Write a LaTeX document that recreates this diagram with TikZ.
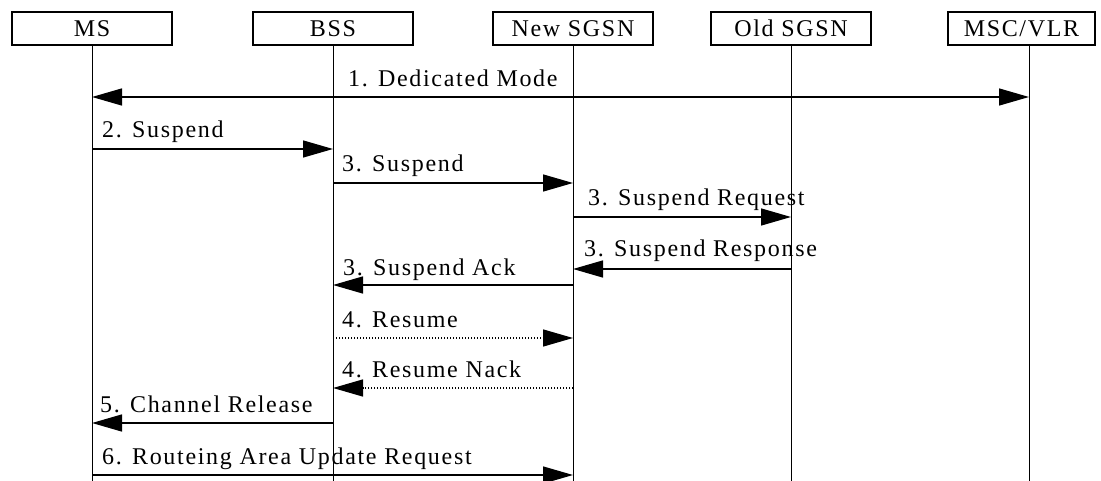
\documentclass[tikz,border=0pt]{standalone}
\usepackage{fontspec}
\setmainfont{Liberation Serif}[LetterSpace=7]
\usetikzlibrary{arrows.meta,positioning}

\begin{document}
\begin{tikzpicture}[x=1pt,y=-1pt,line cap=butt,
 every node/.style={font=\fontsize{24}{28}\selectfont,inner sep=0pt},
 entity/.style={draw,line width=1.3pt,minimum width=160pt,minimum height=33pt},
 msg/.style={line width=1.4pt,-{Triangle[length=30pt,width=17pt]}},
 twoway/.style={line width=1.4pt,{Triangle[length=30pt,width=17pt]}-{Triangle[length=30pt,width=17pt]}},
 weak/.style={msg,dash pattern=on 1.2pt off 1.8pt},
 lbl/.style={anchor=base west}]
 \useasboundingbox (0,0) rectangle (1101,481);
 % entities
 \node[entity] (ms) at (92,28.5) {MS};
 \node[entity] (bss) at (333,28.5) {BSS};
 \node[entity] (newsgsn) at (573,28.5) {New SGSN};
 \node[entity] (oldsgsn) at (791,28.5) {Old SGSN};
 \node[entity,minimum width=147pt] (msc) at (1021.5,28.5) {MSC/VLR};
 \coordinate (bottom) at (0,481);
 \coordinate (msctop) at ([xshift=7.5pt]msc.south);
 \foreach \e in {ms,bss,newsgsn,oldsgsn,msctop}
  \draw[line width=0.9pt] (\e.south) -- (\e.south |- bottom);
 % message rows
 \coordinate (r1) at (0,97);
 \coordinate (r2) at (0,149);
 \coordinate (r3) at (0,183);
 \coordinate (r4) at (0,217);
 \coordinate (r5) at (0,269);
 \coordinate (r6) at (0,285);
 \coordinate (r7) at (0,338);
 \coordinate (r8) at (0,388);
 \coordinate (r9) at (0,423);
 \coordinate (r10) at (0,475);
 \draw[twoway] (ms |- r1) -- (msctop |- r1);
 \draw[msg] (ms |- r2) -- (bss |- r2);
 \draw[msg] (bss |- r3) -- (newsgsn |- r3);
 \draw[msg] (newsgsn |- r4) -- (oldsgsn |- r4);
 \draw[msg] (oldsgsn |- r5) -- (newsgsn |- r5);
 \draw[msg] (newsgsn |- r6) -- (bss |- r6);
 \draw[weak] (bss |- r7) -- (newsgsn |- r7);
 \draw[weak] (newsgsn |- r8) -- (bss |- r8);
 \draw[msg] (bss |- r9) -- (ms |- r9);
 \draw[msg] (ms |- r10) -- (newsgsn |- r10);
 % labels
 \node[lbl] (l1) at ([xshift=15pt,yshift=10pt]bss |- r1) {1. Dedicated Mode};
 \node[lbl] (l2) at ([xshift=10pt,yshift=11pt]ms |- r2) {2. Suspend};
 \node[lbl] (l3) at ([xshift=9pt,yshift=11pt]bss |- r3) {3. Suspend};
 \node[lbl] (l4) at ([xshift=15pt,yshift=11pt]newsgsn |- r4) {3. Suspend Request};
 \node[lbl] (l5) at ([xshift=11pt,yshift=12pt]newsgsn |- r5) {3. Suspend Response};
 \node[lbl] (l6) at ([xshift=10pt,yshift=9pt]bss |- r6) {3. Suspend Ack};
 \node[lbl] (l7) at ([xshift=9pt,yshift=11pt]bss |- r7) {4. Resume};
 \node[lbl] (l8) at ([xshift=9pt,yshift=11pt]bss |- r8) {4. Resume Nack};
 \node[lbl] (l9) at ([xshift=8pt,yshift=11pt]ms |- r9) {5. Channel Release};
 \node[lbl] (l10) at ([xshift=10pt,yshift=11pt]ms |- r10) {6. Routeing Area Update Request};
\end{tikzpicture}
\end{document}
